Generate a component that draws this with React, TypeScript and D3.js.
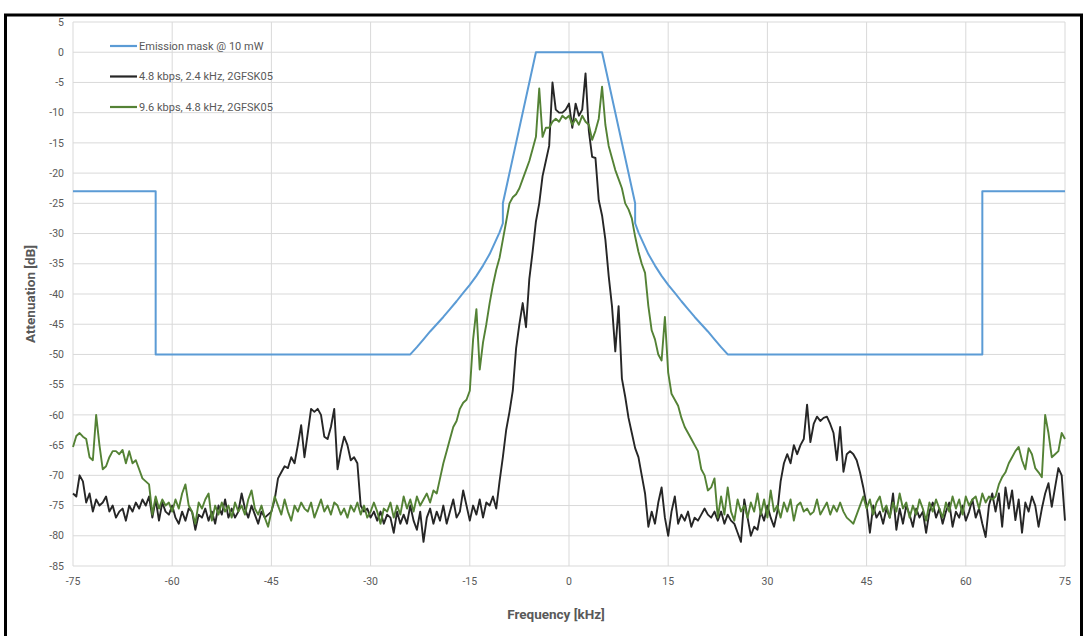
import React from 'react';
import { scaleLinear, line, range } from 'd3';

// emission mask vertices
const maskFreq = [-75, -62.5, -62.5, -24, -23, -22, -21, -20, -19, -18, -17, -16, -15, -14, -13, -12, -11, -10.5, -10, -10, -5,
  5, 10, 10, 10.5, 11, 12, 13, 14, 15, 16, 17, 18, 19, 20, 21, 22, 23, 24, 62.5, 62.5, 75];
const maskDb = [-23, -23, -50, -50, -48.8, -47.5, -46.2, -45, -43.8, -42.5, -41.2, -39.8, -38.5, -37, -35.3, -33.4, -31, -29.8, -28.3, -25, 0,
  0, -25, -28.3, -29.8, -31, -33.4, -35.3, -37, -38.5, -39.8, -41.2, -42.5, -43.8, -45, -46.2, -47.5, -48.8, -50, -50, -23, -23];

// measured spectra, one value every 0.5 kHz from -75 to 75 kHz
const freqStart = -75;
const freqStep = 0.5;

const slow = [
  -73, -73.5, -70, -71, -74.5, -73, -76, -74, -75, -74.5, -73.5, -76, -75, -77, -76, -75.5, -77.5, -75, -76, -74.5,
  -75.5, -74, -75, -73.5, -77, -74, -77.5, -74.5, -76, -76.5, -75, -77, -78, -76, -77.5, -75.5, -76, -79, -76.5, -77,
  -75.5, -77.5, -76, -78, -75, -76.5, -74, -77, -75.5, -77, -76, -73, -75.5, -77, -75, -76.5, -78, -76, -77, -76.5,
  -76, -74, -70.5, -69.5, -68.5, -68.8, -67, -68, -65, -61.7, -67, -63, -59, -59.5, -59, -60, -63.6, -64, -62, -59,
  -69, -66, -63.6, -65, -67.5, -67, -68, -75, -76, -75.5, -77, -76, -77.5, -76, -78, -76.5, -77, -79.5, -76, -78,
  -76.5, -78, -75, -77.5, -79, -76, -81, -77, -75.5, -78, -76, -77.5, -75, -78, -76, -74, -77, -76, -72.5, -75,
  -77.5, -75, -76.5, -74, -77, -74.5, -75, -73.5, -75.5, -71, -67, -62.5, -59.5, -56, -49, -45, -41.5, -45.5, -37.5, -33,
  -28, -25, -20.5, -18, -15.5, -5, -9.5, -10, -10, -9.5, -8.5, -12.5, -8.5, -10.5, -9.5, -3.5, -13, -17.3, -17.5, -24.5,
  -27, -31, -37, -42, -49.5, -42, -54, -57, -60.5, -63, -65.5, -67, -70, -73, -78.5, -76, -78, -74.5, -72, -77,
  -80, -76, -73.5, -78, -76.5, -77.5, -76, -78.5, -77, -77.5, -76.5, -75.5, -76.5, -77, -76, -77.5, -76, -78, -76.5, -77.5,
  -78, -79.5, -81, -74, -77, -80, -78.5, -79, -76, -77.5, -75, -77, -78.5, -76, -71, -68, -66.5, -68, -65, -66.5,
  -65, -64, -58.3, -64.5, -61.5, -60.3, -61, -60.5, -60.3, -61.5, -63, -67.5, -62, -69.4, -66.5, -66, -66.5, -67.5, -69.5, -72,
  -75, -79.5, -75, -77, -76, -78, -75.5, -77, -73, -79, -75.5, -78, -75, -76.5, -78.5, -75.5, -77, -76, -79.5, -76,
  -74.5, -77, -75.5, -78, -76, -74.5, -78.5, -76, -77, -75, -77.5, -76, -74, -77, -75.5, -78, -80.2, -75, -73, -76,
  -73, -78.5, -72, -75.5, -72.5, -77.4, -74, -79.5, -74.5, -76, -73.5, -75, -78.5, -75.5, -73, -71.3, -75.2, -72, -68.8, -70,
  -77.5,
];

const fast = [
  -65.3, -63.5, -63, -63.6, -64, -67, -67.5, -60, -65, -69, -68.5, -67, -66, -66, -66.5, -65.8, -68, -66, -68, -67.5,
  -69, -70.5, -71, -71.5, -76.5, -73.5, -75.5, -74, -75, -74.5, -76, -74, -75.5, -73, -71.5, -75, -76, -78, -74.5, -75.5,
  -74, -73, -77.5, -75, -76.5, -74.5, -76, -75, -77, -74.5, -76, -75, -76.5, -74, -72.5, -75.5, -76.5, -75, -77, -78.5,
  -76, -73.5, -75, -76.5, -74, -76, -77.5, -75, -76, -74.5, -75.5, -76, -74.5, -77, -75.5, -74, -76, -75, -76.5, -74.5,
  -75, -76.5, -75.5, -77, -75, -76, -74.5, -76.5, -75, -77, -76, -74.5, -76, -78, -75.5, -76, -74.5, -77, -75, -76.5,
  -73.5, -75.5, -74, -76, -73.5, -75, -74, -73, -74.5, -72.5, -73, -70.5, -68, -66, -64, -62, -61, -59, -58, -57.5,
  -56, -47.5, -42.5, -52.5, -48, -45, -41.5, -38.5, -36, -34, -31, -28, -25, -24, -23.5, -22.5, -21, -19.5, -18, -16,
  -14, -6, -14, -12.5, -12.5, -11.5, -11, -11.5, -10.5, -11, -10.5, -12, -11, -12, -10.5, -11.5, -12, -14.5, -13, -11,
  -5.7, -12, -15.5, -17.5, -19.5, -21, -22.5, -25, -26, -27.5, -30.5, -33, -35, -36.5, -42, -46, -47.5, -50, -51, -43.8,
  -53, -56.5, -57.5, -58.5, -60.5, -62, -63, -64, -65, -66, -69, -70, -72.5, -72, -70.5, -77, -73.5, -76.5, -72, -76,
  -77.5, -74, -76, -75, -77, -74.5, -76, -73, -76.5, -74, -77, -72.5, -76, -75, -77, -74.5, -76, -74, -77.5, -75,
  -74.5, -76, -75.5, -76.5, -76, -74, -76.5, -75.5, -74.5, -76.5, -75, -76, -74.5, -76, -77, -77.5, -78, -76.5, -75, -73.5,
  -75.5, -74, -76.5, -74.5, -73.5, -76, -75, -77, -74.5, -76, -73, -75.5, -74.5, -77, -75, -76.5, -74, -75.5, -77.5, -74.5,
  -76, -74, -75.5, -77, -74.5, -76, -73.5, -75.5, -74, -76.5, -73.5, -75, -74, -73.5, -75.5, -73, -74.5, -73.5, -74, -73.5,
  -71.5, -70.3, -69.5, -68, -67, -66, -65.3, -67.5, -69, -65.5, -66.5, -68.8, -69.5, -70.3, -60, -63, -67, -66.5, -66, -63,
  -64,
];

const yTicks = range(5, -86, -5);
const xTicks = [-75, -60, -45, -30, -15, 0, 15, 30, 45, 60, 75];

const legendItems = [
  { label: 'Emission mask @ 10 mW', color: '#5b9bd5' },
  { label: '4.8 kbps, 2.4 kHz, 2GFSK05', color: '#262626' },
  { label: '9.6 kbps, 4.8 kHz, 2GFSK05', color: '#548235' },
];

const W = 1086;
const H = 636;
const plot = { left: 73, right: 1065, top: 22, bottom: 566 };
const font = 'Roboto, "Open Sans", sans-serif';

const App = () => {
  const x = scaleLinear().domain([-75, 75]).range([plot.left, plot.right]);
  const y = scaleLinear().domain([5, -85]).range([plot.top, plot.bottom]);

  const pathOf = (vals: number[]) =>
    line<number>()
      .x((d, i) => x(freqStart + i * freqStep))
      .y(d => y(d))(vals) as string;

  const maskPath = line<number>()
    .x((d, i) => x(maskFreq[i]))
    .y(d => y(d))(maskDb) as string;

  return (
    <svg width={W} height={H} style={{ position: 'absolute', left: 0, top: 0, background: '#fff' }}>
      <rect x={0} y={0} width={W} height={H} fill="#fff" />
      {/* gridlines */}
      {yTicks.map(t => (
        <line key={'gy' + t} x1={plot.left} x2={plot.right} y1={y(t)} y2={y(t)} stroke="#d9d9d9" strokeWidth={1} />
      ))}
      {xTicks.map(t => (
        <line key={'gx' + t} x1={x(t)} x2={x(t)} y1={plot.top} y2={plot.bottom} stroke="#d9d9d9" strokeWidth={1} />
      ))}
      {/* tick labels */}
      {yTicks.map(t => (
        <text key={'ty' + t} x={plot.left - 9} y={y(t)} dy="0.35em" textAnchor="end" fontSize={10.5} fill="#595959" fontFamily={font}>
          {t}
        </text>
      ))}
      {xTicks.map(t => (
        <text key={'tx' + t} x={x(t)} y={585} textAnchor="middle" fontSize={10.5} fill="#595959" fontFamily={font}>
          {t}
        </text>
      ))}
      {/* axis titles */}
      <text x={556} y={619} textAnchor="middle" fontSize={13.5} fontWeight="bold" fill="#595959" fontFamily={font}>
        Frequency [kHz]
      </text>
      <text transform="translate(35,294) rotate(-90)" textAnchor="middle" fontSize={13.5} fontWeight="bold" fill="#595959" fontFamily={font}>
        Attenuation [dB]
      </text>
      {/* series */}
      <path d={pathOf(slow)} fill="none" stroke="#262626" strokeWidth={1.9} strokeLinejoin="round" />
      <path d={pathOf(fast)} fill="none" stroke="#548235" strokeWidth={1.9} strokeLinejoin="round" />
      <path d={maskPath} fill="none" stroke="#5b9bd5" strokeWidth={2} strokeLinejoin="round" />
      {/* legend */}
      {legendItems.map((it, i) => (
        <g key={it.label} transform={`translate(110,${46 + i * 30.5})`}>
          <line x1={0} x2={27} y1={0} y2={0} stroke={it.color} strokeWidth={2.2} />
          <text x={29} y={0} dy="0.35em" fontSize={11} fill="#595959" fontFamily={font}>
            {it.label}
          </text>
        </g>
      ))}
      {/* chart frame */}
      <rect x={5.5} y={15} width={1076} height={640} fill="none" stroke="#000" strokeWidth={3} />
    </svg>
  );
};

export default App;
